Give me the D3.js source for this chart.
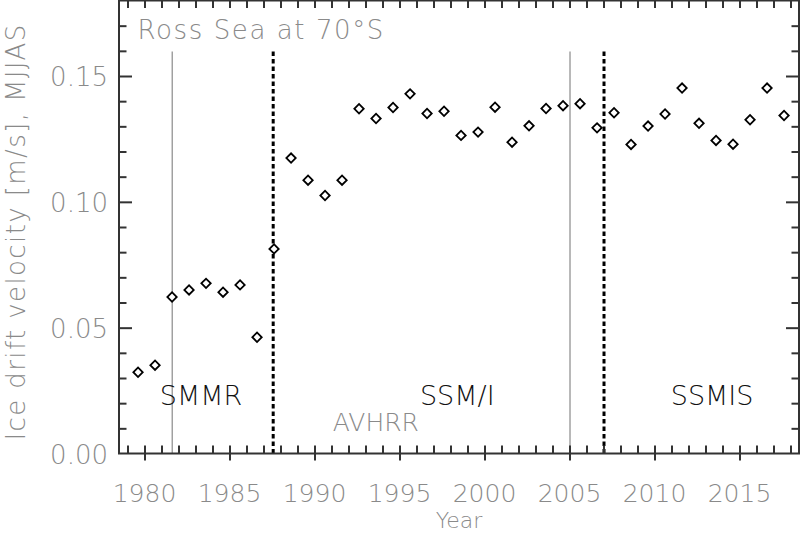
<!DOCTYPE html>
<html><head><meta charset="utf-8">
<script src="https://cdn.jsdelivr.net/npm/d3@7"></script>
<style>
body{margin:0;background:#fff;}
text{font-family:"DejaVu Sans",sans-serif;font-weight:200;}
</style>
</head><body>
<svg id="c" width="800" height="534"></svg>
<script>
// ---- data ----
const years = [1979,1980,1981,1982,1983,1984,1985,1986,1987,1988,1989,1990,1991,1992,1993,1994,
  1995,1996,1997,1998,1999,2000,2001,2002,2003,2004,2005,2006,2007,2008,2009,2010,2011,2012,
  2013,2014,2015,2016,2017];
const velocity = [0.0323,0.0351,0.0622,0.0650,0.0676,0.0641,0.0670,0.0462,0.0813,
  0.1174,0.1086,0.1025,0.1086,0.1370,0.1331,0.1375,
  0.1429,0.1351,0.1360,0.1264,0.1277,0.1376,0.1237,0.1302,0.1371,0.1382,0.1390,
  0.1294,0.1354,0.1228,0.1301,0.1349,0.1452,0.1312,0.1244,0.1229,0.1326,0.1452,0.1343];
const solidLines = [1981.63, 2005.03];
const dottedLines = [1987.57, 2007.03];
const xTickLabels = [1980,1985,1990,1995,2000,2005,2010,2015];
const yTickLabels = [0.00,0.05,0.10,0.15];
const sensorNames = ["SMMR","SSM/I","SSMIS"];
const title = "Ross Sea at 70°S";

// ---- layout ----
const svg = d3.select("#c");
const x = d3.scaleLinear().domain([1978.5, 2018.5]).range([119, 799]);
const y = d3.scaleLinear().domain([0, 0.18]).range([453.5, 0.5]);
const gray = "#8a8a8a", axisCol = "#333";
const yearOffset = 0.62;

// vertical lines
svg.selectAll("line.solid").data(solidLines).join("line")
  .attr("x1", d => x(d)).attr("x2", d => x(d))
  .attr("y1", y(0.1597)).attr("y2", y(0))
  .attr("stroke", gray).attr("stroke-width", 1.2);
svg.selectAll("line.dot").data(dottedLines).join("line")
  .attr("x1", d => x(d)).attr("x2", d => x(d))
  .attr("y1", y(0.1597)).attr("y2", y(0))
  .attr("stroke", "#000").attr("stroke-width", 3).attr("stroke-dasharray", "4.5,3");

// ticks
const allYears = d3.range(1979, 2019);
const minorY = d3.range(1, 18).map(v => v / 100).filter(v => Math.round(v * 100) % 5 !== 0);
const majorY = [0.05, 0.10, 0.15];
function tickStyle(g){ g.select(".domain").remove(); g.selectAll("line").attr("stroke", axisCol).attr("stroke-width", 2); g.selectAll("text").remove(); }

svg.append("g").attr("transform", `translate(${x.range()[0]},0)`)
  .call(d3.axisLeft(y).tickValues(minorY).tickSize(-7.5)).call(tickStyle);
svg.append("g").attr("transform", `translate(${x.range()[0]},0)`)
  .call(d3.axisLeft(y).tickValues(majorY).tickSize(-13)).call(tickStyle);
svg.append("g").attr("transform", `translate(${x.range()[1]},0)`)
  .call(d3.axisRight(y).tickValues(minorY).tickSize(-7.5)).call(tickStyle);
svg.append("g").attr("transform", `translate(${x.range()[1]},0)`)
  .call(d3.axisRight(y).tickValues(majorY).tickSize(-13)).call(tickStyle);
svg.append("g").attr("transform", `translate(0,${y(0)})`)
  .call(d3.axisBottom(x).tickValues(allYears).tickSize(-8)).call(tickStyle);
svg.append("g").attr("transform", `translate(0,${y(0)})`)
  .call(d3.axisBottom(x).tickValues(xTickLabels).tickSize(7)).call(tickStyle);
svg.append("g").attr("transform", `translate(0,${y(0.18)})`)
  .call(d3.axisTop(x).tickValues(allYears).tickSize(-7.5)).call(tickStyle);

// frame
svg.append("rect").attr("x", x.range()[0]).attr("y", y(0.18))
  .attr("width", x.range()[1] - x.range()[0]).attr("height", y(0) - y(0.18))
  .attr("fill", "none").attr("stroke", axisCol).attr("stroke-width", 2);

// tick labels
svg.selectAll("text.xl").data(xTickLabels).join("text")
  .attr("x", d => x(d)).attr("y", 502).attr("text-anchor", "middle")
  .attr("font-size", 25).attr("fill", gray).text(d => d);
svg.selectAll("text.yl").data(yTickLabels).join("text")
  .attr("x", 108).attr("y", d => y(d) + 10).attr("text-anchor", "end")
  .attr("font-size", 26).attr("fill", gray).text(d => d3.format(".2f")(d));

// axis titles
svg.append("text").attr("x", (x.range()[0] + x.range()[1]) / 2).attr("y", 528)
  .attr("text-anchor", "middle").attr("font-size", 22).attr("fill", gray).text("Year");
svg.append("text").attr("transform", `translate(25,${(y(0) + y(0.18)) / 2 + 5}) rotate(-90)`)
  .attr("text-anchor", "middle").attr("font-size", 26).attr("fill", gray)
  .attr("letter-spacing", 1.4)
  .text("Ice drift velocity [m/s], MJJAS");

// title & annotations
svg.append("text").attr("x", x(1979.59)).attr("y", y(0.1647))
  .attr("font-size", 26).attr("fill", gray).attr("letter-spacing", 1.6).text(title);
const sensorPos = [[1983.33, 0.0192], [1998.4, 0.0192], [2013.39, 0.0192]];
svg.selectAll("text.sensor").data(sensorNames).join("text")
  .attr("x", (d, i) => x(sensorPos[i][0])).attr("y", (d, i) => y(sensorPos[i][1]))
  .attr("text-anchor", "middle").attr("font-size", 27).attr("fill", "#111").text(d => d);
svg.append("text").attr("x", x(1993.61)).attr("y", y(0.0089))
  .attr("text-anchor", "middle").attr("font-size", 25).attr("fill", gray).text("AVHRR");

// diamonds
const diamond = d3.symbol().type(d3.symbolSquare).size(44);
svg.selectAll("path.pt").data(years).join("path")
  .attr("transform", (d, i) => `translate(${x(d + yearOffset)},${y(velocity[i])}) rotate(45)`)
  .attr("d", diamond).attr("fill", "#fff").attr("stroke", "#000").attr("stroke-width", 1.8);
</script>
</body></html>
